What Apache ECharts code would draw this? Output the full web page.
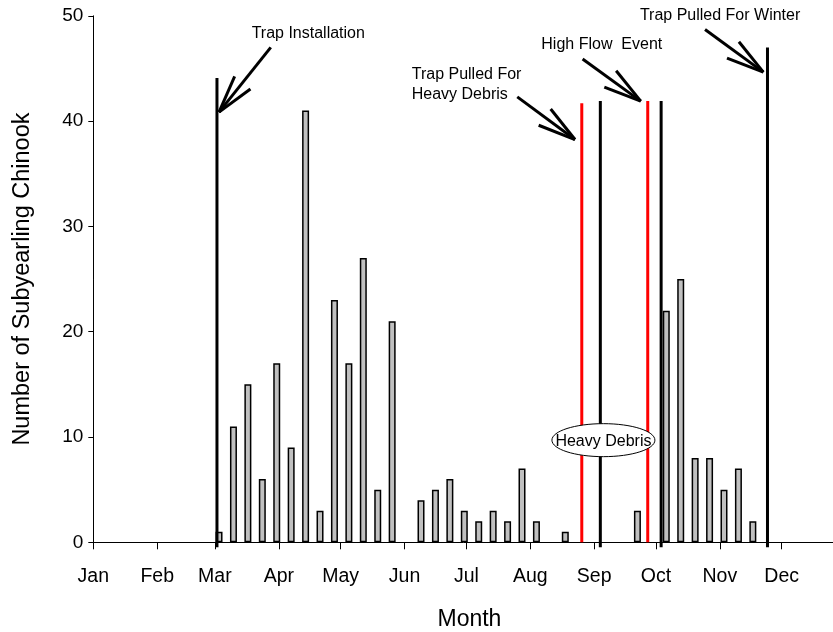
<!DOCTYPE html>
<html>
<head>
<meta charset="utf-8">
<script src="https://cdn.jsdelivr.net/npm/echarts@6/dist/echarts.min.js"></script>
<style>
  html, body { margin: 0; padding: 0; background: #ffffff; }
  #chart { width: 833px; height: 632px; }
</style>
</head>
<body>
<div id="chart"></div>
<script>
// Month ticks on a day-of-year axis (Jan 1 = day 0)
const monthLabels = ['Jan', 'Feb', 'Mar', 'Apr', 'May', 'Jun', 'Jul', 'Aug', 'Sep', 'Oct', 'Nov', 'Dec'];
const monthStartDays = [0, 31, 59, 90, 120, 151, 181, 212, 243, 273, 304, 334];

// Weekly subyearling Chinook catch (day of year, count)
const sampleDays = [61, 68, 75, 82, 89, 96, 103, 110, 117, 124, 131, 138, 145,
                    159, 166, 173, 180, 187, 194, 201, 208, 215, 229,
                    264, 278, 285, 292, 299, 306, 313, 320];
const chinookCounts = [1, 11, 15, 6, 17, 9, 41, 3, 23, 17, 27, 5, 21,
                       4, 5, 6, 3, 2, 3, 2, 7, 2, 1,
                       3, 22, 25, 8, 8, 5, 7, 2];

// Trap operation events: day of year, line height, kind
const eventDays = [60, 237, 246, 269, 275.5, 327.1];
const eventTops = [44.1, 41.7, 41.9, 41.9, 41.9, 47.0];
const eventKinds = ['trap', 'event', 'trap', 'event', 'trap', 'trap'];

// Callouts: text, text anchor (day, count), arrow tail and head (day, count)
const calloutTexts = ['Trap Installation', 'Trap Pulled For\nHeavy Debris', 'High Flow  Event', 'Trap Pulled For Winter'];
const calloutAnchors = [[104.3, 48.3], [154.5, 43.5], [246.7, 47.3], [304.1, 50.0]];
const calloutAlign = ['center', 'left', 'center', 'center'];
const arrowTails = [[86.1, 47.0], [205.7, 42.3], [237.4, 45.9], [296.8, 48.7]];
const arrowHeads = [[61.0, 40.85], [233.7, 38.25], [265.6, 41.9], [325.1, 44.65]];

// Boxed note over the debris period
const noteText = 'Heavy Debris';
const noteCenter = [247.5, 9.7];

const FONT = '"Liberation Sans", Arial, sans-serif';

const barData = sampleDays.map((d, i) => [d, chinookCounts[i]]);
const eventData = eventDays.map((d, i) => [d, eventTops[i], eventKinds[i] === 'event' ? 1 : 0]);
const arrowData = arrowTails.map((t, i) => [t[0], t[1], arrowHeads[i][0], arrowHeads[i][1]]);
const calloutData = calloutAnchors.map((a, i) => [a[0], a[1], i]);

const chart = echarts.init(document.getElementById('chart'), null, { renderer: 'canvas' });

chart.setOption({
  animation: false,
  backgroundColor: '#ffffff',
  // the year axis runs a little past the right edge of the canvas
  grid: { left: 93.3, right: -12.6, top: 15.8, bottom: 89.7, containLabel: false, outerBoundsMode: 'none' },
  xAxis: {
    type: 'value',
    min: 0,
    max: 365,
    name: 'Month',
    nameLocation: 'middle',
    nameGap: 66,
    nameTextStyle: { fontFamily: FONT, fontSize: 23, color: '#000' },
    axisLine: { show: true, lineStyle: { color: '#000', width: 1 } },
    axisTick: { show: true, length: 7, lineStyle: { color: '#000', width: 1 }, customValues: monthStartDays },
    axisLabel: {
      fontFamily: FONT, fontSize: 19.5, color: '#000', margin: 24,
      customValues: monthStartDays,
      formatter: v => monthLabels[monthStartDays.indexOf(v)] || ''
    },
    splitLine: { show: false }
  },
  yAxis: {
    type: 'value',
    min: 0,
    max: 50,
    interval: 10,
    name: 'Number of Subyearling Chinook',
    nameLocation: 'middle',
    nameGap: 59,
    nameTextStyle: { fontFamily: FONT, fontSize: 23.5, color: '#000' },
    axisLine: { show: true, lineStyle: { color: '#000', width: 1 } },
    axisTick: { show: true, length: 5, lineStyle: { color: '#000', width: 1 } },
    axisLabel: { fontFamily: FONT, fontSize: 19, color: '#000', margin: 10 },
    splitLine: { show: false }
  },
  series: [
    {
      type: 'bar',
      data: barData,
      barWidth: 7,
      itemStyle: { color: '#c0c0c0', borderColor: '#000', borderWidth: 1.5 },
      z: 2
    },
    {
      // vertical event markers
      type: 'custom',
      data: eventData,
      clip: false,
      z: 3,
      renderItem: (params, api) => {
        const day = api.value(0);
        const top = api.coord([day, api.value(1)]);
        const base = api.coord([day, 0]);
        const isEvent = api.value(2) === 1;
        return {
          type: 'line',
          shape: { x1: top[0], y1: top[1], x2: base[0], y2: base[1] + (isEvent ? 0 : 5) },
          style: { stroke: isEvent ? '#ff0000' : '#000000', lineWidth: 3 }
        };
      }
    },
    {
      // callout arrows with open heads
      type: 'custom',
      data: arrowData,
      clip: false,
      z: 4,
      renderItem: (params, api) => {
        const tail = api.coord([api.value(0), api.value(1)]);
        const head = api.coord([api.value(2), api.value(3)]);
        const ang = Math.atan2(tail[1] - head[1], tail[0] - head[0]);
        const len = 39, spread = 15 * Math.PI / 180;
        const b1 = [head[0] + len * Math.cos(ang + spread), head[1] + len * Math.sin(ang + spread)];
        const b2 = [head[0] + len * Math.cos(ang - spread), head[1] + len * Math.sin(ang - spread)];
        const st = { stroke: '#000', lineWidth: 3, lineCap: 'butt' };
        return {
          type: 'group',
          children: [
            { type: 'line', shape: { x1: tail[0], y1: tail[1], x2: head[0], y2: head[1] }, style: st },
            { type: 'line', shape: { x1: b1[0], y1: b1[1], x2: head[0], y2: head[1] }, style: st },
            { type: 'line', shape: { x1: b2[0], y1: b2[1], x2: head[0], y2: head[1] }, style: st }
          ]
        };
      }
    },
    {
      // callout texts
      type: 'custom',
      data: calloutData,
      clip: false,
      z: 5,
      renderItem: (params, api) => {
        const p = api.coord([api.value(0), api.value(1)]);
        const i = api.value(2);
        return {
          type: 'text',
          style: {
            text: calloutTexts[i],
            x: p[0], y: p[1],
            align: calloutAlign[i],
            verticalAlign: 'middle',
            font: '16px ' + FONT,
            lineHeight: 20,
            fill: '#000'
          }
        };
      }
    },
    {
      // debris note in an ellipse
      type: 'custom',
      data: [noteCenter],
      clip: false,
      z: 6,
      renderItem: (params, api) => {
        const c = api.coord([api.value(0), api.value(1)]);
        return {
          type: 'group',
          children: [
            { type: 'ellipse', shape: { cx: c[0], cy: c[1], rx: 51.5, ry: 16.5 },
              style: { fill: '#ffffff', stroke: '#000', lineWidth: 1 } },
            { type: 'text', style: { text: noteText, x: c[0], y: c[1] + 1, align: 'center', verticalAlign: 'middle',
              font: '16px ' + FONT, fill: '#000' } }
          ]
        };
      }
    }
  ]
});
</script>
</body>
</html>
